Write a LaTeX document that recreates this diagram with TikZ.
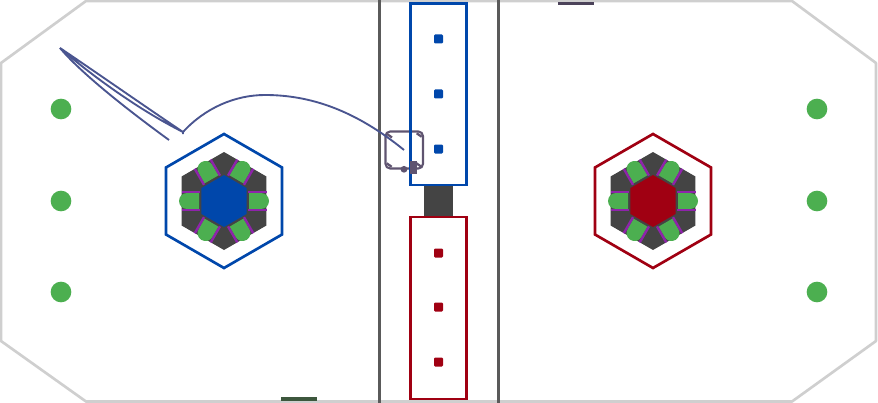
\documentclass[tikz,border=0pt]{standalone}
\definecolor{wallc}{HTML}{CFCFCF}
\definecolor{lanec}{HTML}{5A5A5A}
\definecolor{darkc}{HTML}{444444}
\definecolor{greenc}{HTML}{4CAF50}
\definecolor{bluec}{HTML}{0047AB}
\definecolor{redc}{HTML}{A00012}
\definecolor{purpc}{HTML}{8E24AA}
\definecolor{pathc}{HTML}{4A5590}
\definecolor{robotc}{HTML}{5F5470}
\tikzset{
  wall/.style={draw=wallc,line width=2pt,line join=round},
  lanefill/.style={fill=lanec},
  dot/.style={circle,fill=greenc,inner sep=0pt,minimum size=15.5pt},
  sq/.style={fill=#1,rounded corners=0.8pt},
  trail/.style={draw=pathc,line width=1.4pt},
}
\newcommand{\hexpath}[2]{(#1:#2) -- (#1+60:#2) -- (#1+120:#2) -- (#1+180:#2) -- (#1+240:#2) -- (#1+300:#2) -- cycle}
\newcommand{\hub}[3]{%
  \begin{scope}[shift={(#1,201)}]
    \fill[darkc] \hexpath{30}{49};
    \foreach \a in {0,60,...,300}{
      \begin{scope}[rotate=\a]
        \fill[greenc] (25,-8) -- (37,-8) arc (-90:90:8) -- (25,8) -- cycle;
        \fill[purpc] (24,-10.4) rectangle (42.5,-8);
        \fill[purpc] (24,8) rectangle (42.5,10.4);
      \end{scope}
    }
    \fill[#2] \hexpath{30}{26};
    \draw[#2,line width=2pt,line join=miter] \hexpath{30}{67};
  \end{scope}}
\begin{document}
\begin{tikzpicture}[x=0.75pt,y=-0.75pt]
\useasboundingbox (0,0) rectangle (878,403);
\draw[wall] (86,1) -- (792,1) -- (876,63) -- (876,341) -- (792,401.5) -- (86,401.5) -- (1,341) -- (1,63) -- cycle;
\path[lanefill] (377.7,0) rectangle (380.7,403);
\path[lanefill] (496.7,0) rectangle (499.7,403);
\fill[darkc!90!green] (281,397.3) rectangle (317,400.5);
\fill[robotc!80!black] (558,2) rectangle (594,5);
\foreach \y in {109,201,292}{
  \node[dot] at (61,\y) {};
  \node[dot] at (817,\y) {};
}
\fill[darkc] (424,185) rectangle (453,218);
% robot frame
\draw[robotc,line width=1.6pt,rounded corners=3.5pt] (385.5,131.5) rectangle (423,168.5);
\foreach \p/\q in {387/134,416.7/133.3,386.7/163.3,416/163}{\draw[robotc,line width=1.7pt] (\p,\q) -- ++(5,3.5);}
\draw[bluec,line width=2pt] (410.5,3.5) rectangle (466.5,185);
\draw[redc,line width=2pt] (410.5,217) rectangle (466.5,399);
\foreach \y in {39,94,149}{\fill[sq=bluec] (434,\y-4.5) rectangle (443,\y+4.5);}
\foreach \y in {253,307,362}{\fill[sq=redc] (434,\y-4.5) rectangle (443,\y+4.5);}
\hub{224}{bluec}{}
\hub{653}{redc}{}
\fill[robotc] (404,169.3) circle (3.4);
\fill[robotc] (410,160.7) rectangle (417.3,174);
% trail
\draw[trail] (404,150) .. controls (355,110) and (310,95) .. (265,95) .. controls (235,95) and (205,108) .. (183,132) -- (183,134);
\draw[trail] (183,132) .. controls (140,103) and (100,75) .. (60,48) .. controls (85,70) and (135,108) .. (183,132);
\draw[trail] (60,48) .. controls (80,72) and (125,108) .. (169,140);
\end{tikzpicture}
\end{document}
